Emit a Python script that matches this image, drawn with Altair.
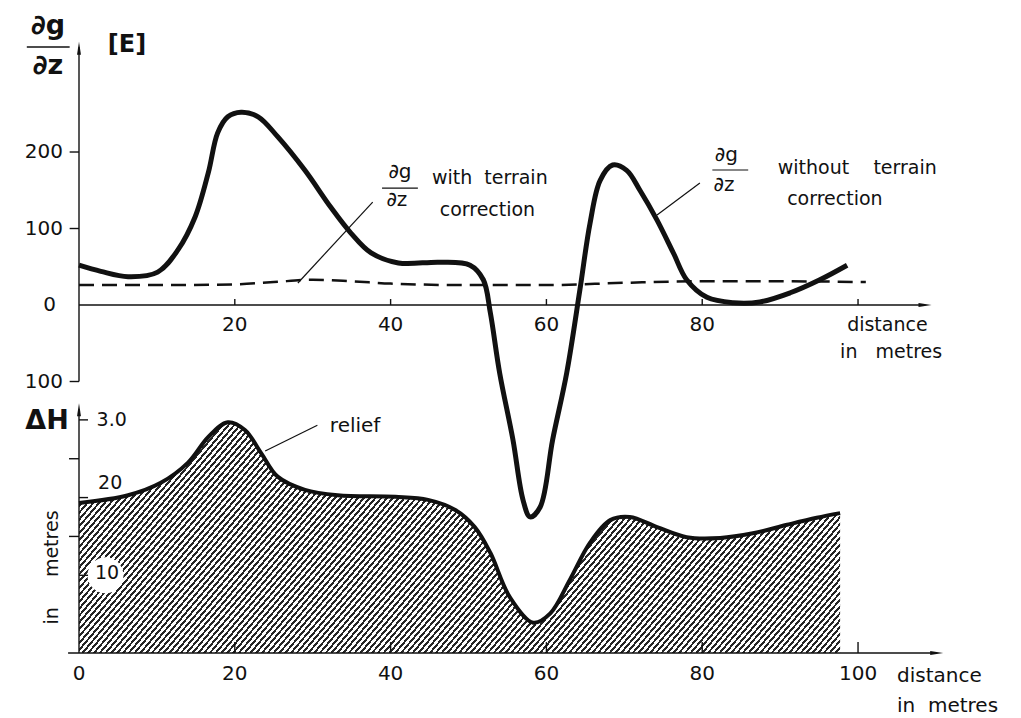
import altair as alt
import pandas as pd

# ---------------- data ----------------
dist_solid = [0, 2.8, 6.3, 10.1, 12.7, 14.9, 16.6, 17.8, 19.1, 20.8, 23.0, 25.5, 29.0, 32.3,
              34.9, 37.5, 41.0, 46.3, 50.2, 51.9, 52.8, 54.0, 55.7, 57.0, 57.9, 59.2, 60.8,
              62.6, 64.3, 65.6, 66.9, 68.5, 70.3, 72.0, 74.2, 76.3, 78.0, 80.6, 84.0, 87.4,
              91.3, 95.1, 98.6]
grad_solid = [52, 44, 37, 43, 72, 115, 173, 225, 246, 252, 246, 220, 176, 128,
              94, 68, 55, 56, 52, 33, -10, -89, -176, -255, -277, -264, -176,
              -89, 20, 107, 163, 183, 176, 150, 111, 68, 33, 10, 3, 4,
              16, 33, 52]

dist_dashed = [0, 10, 20, 25, 30, 35, 40, 50, 60, 70, 80, 90, 101]
grad_dashed = [26, 26, 27, 30, 33, 31, 28, 26, 26, 29, 31, 31, 30]

dist_relief = [0, 6.3, 10.5, 14.0, 16.6, 19.1, 21.3, 23.4, 25.5, 29.0, 33.2, 40.6, 44.8,
               48.3, 50.8, 52.8, 55.3, 58.3, 60.5, 63.0, 65.6, 68.2, 70.7, 74.2, 78.0,
               82.3, 86.5, 90.9, 94.7, 97.7]
relief_h = [19.3, 20.3, 21.9, 24.5, 27.8, 29.7, 28.7, 25.7, 22.7, 21.0, 20.3, 20.1, 19.7,
            18.4, 16.2, 12.9, 7.2, 3.9, 5.1, 9.4, 14.2, 17.1, 17.5, 16.2, 14.9,
            14.8, 15.4, 16.5, 17.4, 18.0]

top_x_ticks = [20, 40, 60, 80]
top_y_ticks = [200, 100, -100]
top_y_labels = ["200", "100", "100"]
bottom_x_ticks = [0, 20, 40, 60, 80, 100]
dh_major = [10, 20, 30]
dh_minor = [15, 25]

# ---------------- scales ----------------
XS = alt.Scale(domain=[0, 110.65], nice=False, zero=False)
TS = alt.Scale(domain=[-454.9, 342.5], nice=False, zero=False)   # dg/dz [E]
BS = alt.Scale(domain=[0, 78.5], nice=False, zero=False)         # relief [m]

FONT = "DejaVu Sans"
INK = "#111111"
SP = "\u00a0"
CURVE = "catmull-rom"


def X(f="x"):
    return alt.X(f"{f}:Q", scale=XS, axis=None)


def Y(f, s):
    return alt.Y(f"{f}:Q", scale=s, axis=None)


def rules(rows, s, width=1.5, dash=None):
    df = pd.DataFrame(rows, columns=["x", "x2", "y", "y2"])
    kw = dict(color=INK, strokeWidth=width)
    if dash:
        kw["strokeDash"] = dash
    return alt.Chart(df).mark_rule(**kw).encode(
        x=X(), x2=alt.X2("x2:Q"), y=Y("y", s), y2=alt.Y2("y2:Q"))


def texts(rows, s, **kw):
    df = pd.DataFrame(rows, columns=["x", "y", "t"])
    base = dict(font=FONT, fontSize=19, color=INK, baseline="middle", align="center")
    base.update(kw)
    return alt.Chart(df).mark_text(**base).encode(x=X(), y=Y("y", s), text="t:N")


def arrow(x, y, s, shape):
    df = pd.DataFrame({"x": [x], "y": [y]})
    return alt.Chart(df).mark_point(shape=shape, filled=True, color=INK, size=170,
                                    opacity=1).encode(x=X(), y=Y("y", s))


RIGHT = "M -1 -0.3 L 1 0 L -1 0.3 Z"
UP = "M -0.3 1 L 0 -1 L 0.3 1 Z"

# ---------------- top panel ----------------
solid_df = pd.DataFrame({"x": dist_solid, "y": grad_solid})
dashed_df = pd.DataFrame({"x": dist_dashed, "y": grad_dashed})

solid = alt.Chart(solid_df).mark_line(color=INK, strokeWidth=5, interpolate=CURVE).encode(
    x=X(), y=Y("y", TS))
dashed = alt.Chart(dashed_df).mark_line(color=INK, strokeWidth=2.5, strokeDash=[15, 8],
                                        interpolate="monotone").encode(x=X(), y=Y("y", TS))

top_axes = rules(
    [(0, 0, -100, 337), (0, 108.3, 0, 0)]
    + [(-1.2, 0, v, v) for v in top_y_ticks]
    + [(v, v, 0, 7.8) for v in top_x_ticks + [100]]
    + [(-6.7, -1.2, 337.3, 337.3)],
    TS, width=1.4)
frac_bars = rules([(38.9, 43.5, 152.9, 152.9), (81.3, 85.9, 176.5, 176.5)], TS, width=1.2)
leaders_top = rules([(37.7, 28.1, 134.6, 28.8), (79.7, 74.2, 159.5, 117.6)], TS, width=1.2)

top_tick_labels = texts([(v, -26.1, str(v)) for v in top_x_ticks], TS, fontSize=20)
top_y_lbls = texts([(-2.05, v, l) for v, l in zip(top_y_ticks, top_y_labels)], TS,
                   align="right", fontSize=20)
top_zero = texts([(-2.95, 0, "0")], TS, align="right", fontSize=20)

title_bold = texts([(-3.98, 364.7, "∂g"), (-3.98, 312.4, "∂z")], TS,
                   fontSize=27, fontWeight="bold")
title_e = texts([(3.7, 339.9, "[E]")], TS, fontSize=24, fontWeight="bold", align="left")

frac_txt = texts([(41.2, 173.9, "∂g"), (40.8, 137.3, "∂z"),
                  (83.1, 196.1, "∂g"), (82.8, 156.9, "∂z")], TS, fontSize=20)
notes_top = texts([(45.3, 166.0, "with" + SP * 2 + "terrain"), (46.3, 124.2, "correction"),
                   (89.7, 179.1, "without" + SP * 4 + "terrain"), (90.9, 138.6, "correction"),
                   (98.6, -26.1, "distance"), (97.7, -61.4, "in" + SP * 3 + "metres")], TS,
                  fontSize=19, align="left")

arrows_top = alt.layer(arrow(108.6, 0, TS, RIGHT), arrow(0, 335.5, TS, UP))

top = alt.layer(dashed, solid, top_axes, frac_bars, leaders_top, top_tick_labels, top_y_lbls,
                top_zero, title_bold, title_e, frac_txt, notes_top, arrows_top)

# ---------------- bottom panel ----------------
N = 175
stops = []
for i in range(N):
    a = i / N
    b = (i + 0.45) / N
    c = (i + 1) / N
    stops += [{"offset": round(a, 5), "color": "#262626"},
              {"offset": round(b, 5), "color": "#262626"},
              {"offset": round(b, 5), "color": "#ffffff"},
              {"offset": round(c, 5), "color": "#ffffff"}]
hatch = {"gradient": "linear", "x1": 0, "y1": 0, "x2": 1.25, "y2": 0.32, "stops": stops}

relief_df = pd.DataFrame({"x": dist_relief, "y": relief_h})
relief_area = alt.Chart(relief_df).mark_area(fill=hatch, interpolate=CURVE,
                                             opacity=1).encode(x=X(), y=Y("y", BS))
relief_line = alt.Chart(relief_df).mark_line(color=INK, strokeWidth=4,
                                             interpolate=CURVE).encode(x=X(), y=Y("y", BS))

blob = alt.Chart(pd.DataFrame({"x": [3.4], "y": [10.0]})).mark_point(
    shape="circle", filled=True, color="white", size=1300, opacity=1).encode(x=X(), y=Y("y", BS))

bottom_axes = rules(
    [(0, 0, 0, 31.4), (-1.4, 110.0, 0, 0)]
    + [(0, 1.16, v, v) for v in dh_major]
    + [(-1.28, 0, v, v) for v in dh_minor]
    + [(v, v, 0, 1.4) for v in bottom_x_ticks[1:]],
    BS, width=1.4)
leader_bottom = rules([(30.6, 23.9, 29.3, 26.0)], BS, width=1.2)

bottom_tick_labels = texts([(v, -2.7, str(v)) for v in bottom_x_ticks], BS, fontSize=20)
dh_labels = texts([(4.2, 30.0, "3.0"), (4.0, 21.9, "20"), (3.6, 10.3, "10")], BS, fontSize=19)
dh_title = texts([(-4.1, 29.9, "ΔH")], BS, fontSize=27, fontWeight="bold")
dh_unit = texts([(-3.47, 11.0, "in" + SP * 5 + "metres")], BS, fontSize=19, angle=270)
notes_bottom = texts([(32.2, 29.2, "relief"), (105.0, -2.96, "distance"),
                      (105.0, -6.8, "in" + SP * 2 + "metres")], BS, fontSize=20, align="left")

arrows_bottom = alt.layer(arrow(110.1, 0, BS, RIGHT), arrow(0, 31.3, BS, UP))

bottom = alt.layer(relief_area, blob, relief_line, bottom_axes, leader_bottom,
                   bottom_tick_labels, dh_labels, dh_title, dh_unit, notes_bottom, arrows_bottom)

chart = alt.layer(bottom, top).resolve_scale(y="independent").properties(
    width=862, height=610,
    autosize=alt.AutoSizeParams(type="none"),
    padding={"left": 79, "top": 43, "right": 80, "bottom": 65},
    background="white",
).configure_view(stroke=None)

chart.save("out.html", embed_options={"renderer": "svg", "actions": False})
